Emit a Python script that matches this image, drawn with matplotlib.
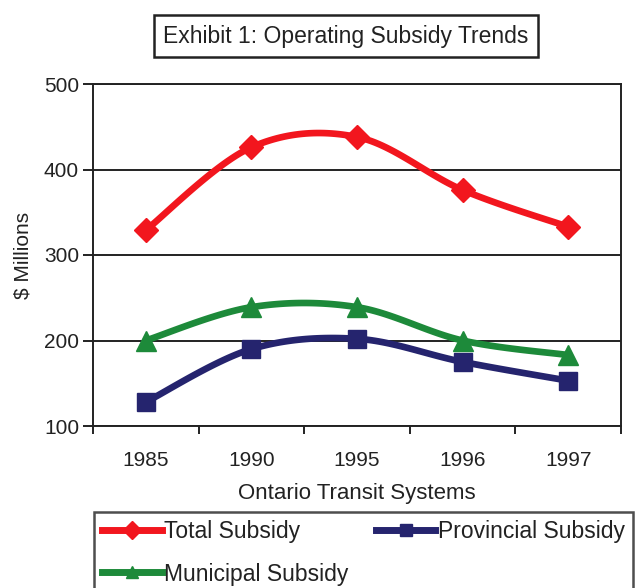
import numpy as np
import matplotlib
matplotlib.use("Agg")
import matplotlib.pyplot as plt
from matplotlib.lines import Line2D

plt.rcParams['font.family'] = ['Liberation Sans', 'DejaVu Sans']

years = ["1985", "1990", "1995", "1996", "1997"]
total_subsidy = [329, 426, 438, 376, 333]
provincial_subsidy = [128, 190, 202, 175, 153]
municipal_subsidy = [200, 239, 239, 200, 183]

RED = "#f2161e"
NAVY = "#25246e"
GREEN = "#1d8a3a"
INK = "#222222"


def smooth(x, y, n=30):
    """Catmull-Rom style smoothing through every point."""
    x = np.asarray(x, float)
    y = np.asarray(y, float)
    px = np.concatenate([[x[0]], x, [x[-1]]])
    py = np.concatenate([[y[0]], y, [y[-1]]])
    xs, ys = [], []
    t = np.linspace(0, 1, n)
    for i in range(1, len(px) - 2):
        p0, p1, p2, p3 = (np.array([px[j], py[j]]) for j in range(i - 1, i + 3))
        c1 = p1 + (p2 - p0) / 6.0
        c2 = p2 - (p3 - p1) / 6.0
        b = ((1 - t) ** 3)[:, None] * p1 + (3 * (1 - t) ** 2 * t)[:, None] * c1 \
            + (3 * (1 - t) * t ** 2)[:, None] * c2 + (t ** 3)[:, None] * p2
        xs.append(b[:, 0])
        ys.append(b[:, 1])
    return np.concatenate(xs), np.concatenate(ys)


fig = plt.figure(figsize=(6.36, 5.88), dpi=100)
ax = fig.add_axes([93 / 636, 1 - 426 / 588, (621 - 93) / 636, (426 - 84) / 588])

xpos = np.arange(len(years))
series = [
    ("Total Subsidy", total_subsidy, RED, "D", 12),
    ("Provincial Subsidy", provincial_subsidy, NAVY, "s", 13),
    ("Municipal Subsidy", municipal_subsidy, GREEN, "^", 15),
]
for name, vals, col, mk, ms in series:
    sx, sy = smooth(xpos, vals)
    ax.plot(sx, sy, color=col, lw=4.8, solid_capstyle="round", zorder=3)
    ax.plot(xpos, vals, ls="none", marker=mk, ms=ms, color=col, zorder=4)

ax.set_xlim(-0.5, len(years) - 0.5)
ax.set_ylim(100, 500)
ax.set_yticks([100, 200, 300, 400, 500])
ax.yaxis.grid(True, color=INK, lw=1.4)
ax.set_axisbelow(True)
ax.set_xticks(np.arange(-0.5, len(years), 1.0))
ax.set_xticklabels([])
ax.set_xticks(xpos, minor=True)
ax.set_xticklabels(years, minor=True)
ax.tick_params(axis="x", which="minor", length=0, pad=18, labelsize=15, labelcolor=INK)
ax.tick_params(axis="x", which="major", direction="out", length=6, width=1.4, color=INK)
ax.tick_params(axis="y", direction="out", length=7, width=1.4, color=INK,
               labelsize=15, labelcolor=INK, pad=3)
for s in ax.spines.values():
    s.set_linewidth(1.4)
    s.set_color(INK)

ax.set_ylabel("$ Millions", fontsize=15, labelpad=8, color=INK)
ax.set_xlabel("Ontario Transit Systems", fontsize=16, labelpad=9, color=INK)

fig.text(346 / 636, 1 - 36 / 588, "Exhibit 1: Operating Subsidy Trends", ha="center", va="center",
         fontsize=16.5, color=INK,
         bbox=dict(boxstyle="square,pad=0.4", fc="white", ec=INK, lw=1.8))

handles = [Line2D([], [], color=col, lw=5, marker=mk, ms=9) for _, _, col, mk, _ in series]
labels = [s[0] for s in series]
order = [0, 2, 1]
leg = fig.legend([handles[i] for i in order], [labels[i] for i in order], ncol=2,
                 loc="upper left", bbox_to_anchor=(94 / 636, 1 - 512 / 588),
                 frameon=True, fancybox=False, edgecolor=INK, fontsize=16.5,
                 labelcolor=INK, handlelength=2.6, handletextpad=0.1, columnspacing=1.2,
                 borderpad=0.35, labelspacing=0.85, borderaxespad=0)
leg.get_frame().set_linewidth(1.8)

fig.savefig("out.png", dpi=100)
